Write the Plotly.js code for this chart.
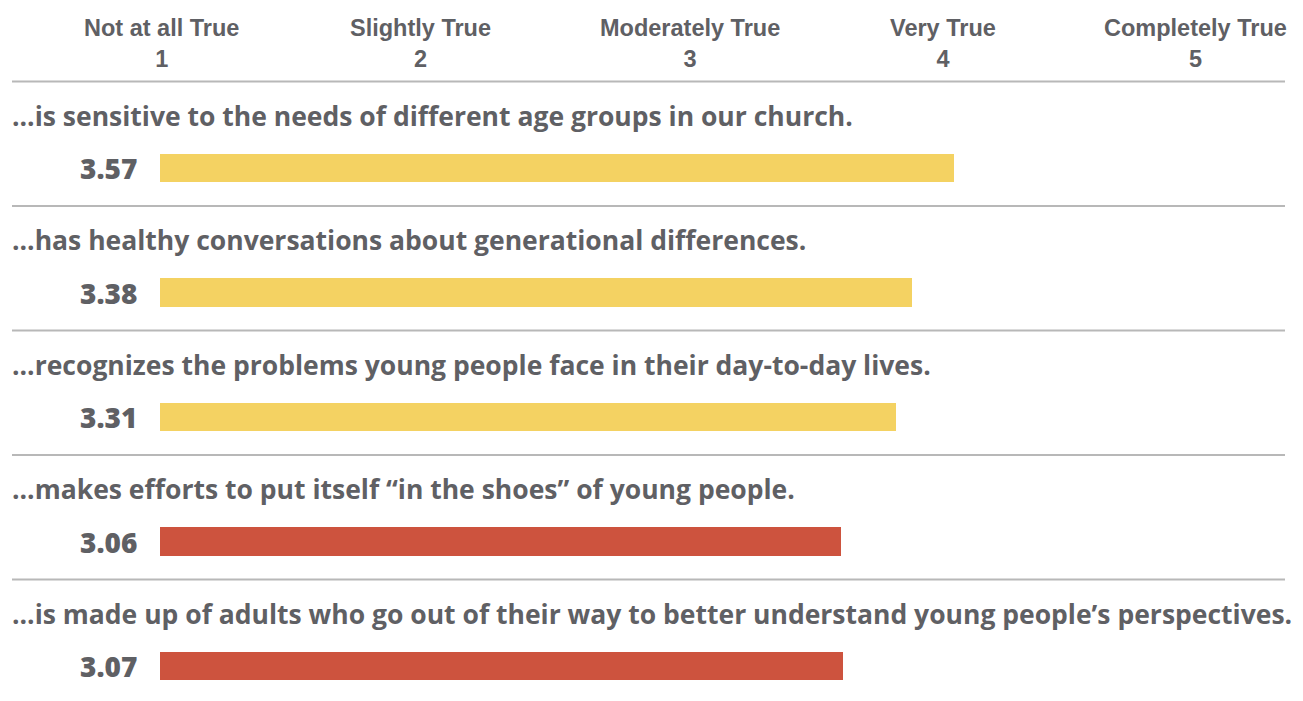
<!DOCTYPE html>
<html>
<head>
<meta charset="utf-8">
<script src="https://cdn.plot.ly/plotly-3.0.1.min.js"></script>
<style>html,body{margin:0;padding:0;background:#fff;}#chart{width:1303px;height:701px;}</style>
</head>
<body>
<div id="chart"></div>
<script>
const statements = [
  "...is sensitive to the needs of different age groups in our church.",
  "...has healthy conversations about generational differences.",
  "...recognizes the problems young people face in their day-to-day lives.",
  "...makes efforts to put itself \u201cin the shoes\u201d of young people.",
  "...is made up of adults who go out of their way to better understand young people\u2019s perspectives."
];
const scores = [3.57, 3.38, 3.31, 3.06, 3.07];
const barColors = ["#f4d262", "#f4d262", "#f4d262", "#cd533e", "#cd533e"];
const scaleNames = ["Not at all True", "Slightly True", "Moderately True", "Very True", "Completely True"];
const scaleValues = [1, 2, 3, 4, 5];

const textColor = "#5f6064";
const W = 1303, H = 701;
const x0 = 160, pxPerUnit = 222.4;
const yTop = 168, pxPerRow = 124.5;
const idx = scores.map((_, i) => i);

const trace = {
  type: "bar",
  orientation: "h",
  x: scores,
  y: idx,
  width: 0.225,
  marker: {color: barColors},
  hoverinfo: "x",
  showlegend: false
};

const annotations = [];
const shapes = [];
const headerX = [161, 420, 690, 943, 1195];
scaleNames.forEach((n, i) => {
  annotations.push({
    xref: "paper", yref: "paper",
    x: headerX[i] / W, y: 1 - 43 / H,
    text: n + "<br>" + scaleValues[i],
    showarrow: false, xanchor: "center", yanchor: "middle",
    align: "center",
    font: {family: "Liberation Sans Narrow, Arial Narrow, sans-serif", size: 23.5, color: textColor, weight: 700}
  });
});
idx.forEach(i => {
  annotations.push({
    xref: "paper", yref: "y",
    x: 10 / W, y: i - 0.42,
    text: statements[i],
    showarrow: false, xanchor: "left", yanchor: "middle",
    font: {family: "Open Sans, sans-serif", size: 26.5, color: textColor, weight: 700}
  });
  annotations.push({
    xref: "paper", yref: "y",
    x: 139 / W, y: i,
    text: scores[i].toFixed(2),
    showarrow: false, xanchor: "right", yanchor: "middle",
    font: {family: "Open Sans, sans-serif", size: 28, color: textColor, weight: 800}
  });
  shapes.push({
    type: "line", xref: "paper", yref: "y",
    x0: 12 / W, x1: 1285 / W, y0: i - 0.695, y1: i - 0.695,
    line: {color: "#b8b8b8", width: 2}
  });
});

const layout = {
  width: W, height: H,
  margin: {l: 0, r: 0, t: 0, b: 0},
  paper_bgcolor: "#ffffff",
  plot_bgcolor: "#ffffff",
  xaxis: {range: [-x0 / pxPerUnit, (W - x0) / pxPerUnit], visible: false, fixedrange: true},
  yaxis: {range: [(H - yTop) / pxPerRow, -yTop / pxPerRow], visible: false, fixedrange: true},
  annotations: annotations,
  shapes: shapes,
  bargap: 0
};

Plotly.newPlot("chart", [trace], layout, {displayModeBar: false, staticPlot: true});
</script>
</body>
</html>
